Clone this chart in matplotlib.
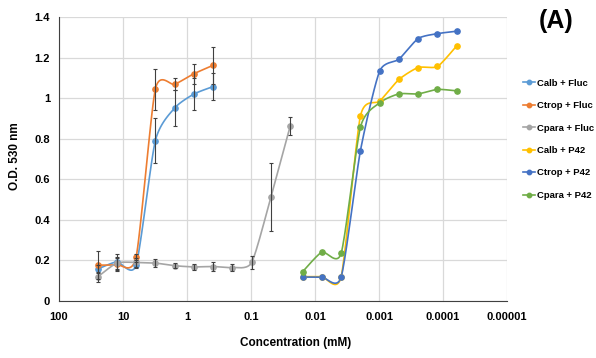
import numpy as np
import matplotlib
matplotlib.use('Agg')
import matplotlib.pyplot as plt
from matplotlib.lines import Line2D

plt.rcParams['font.family'] = ['Liberation Sans', 'DejaVu Sans']
plt.rcParams['font.weight'] = 'bold'

# Fluconazole series (mM)
conc_fluc = [25, 12.5, 6.25, 3.125, 1.5625, 0.78125, 0.390625]
calb_fluc = [0.157, 0.193, 0.177, 0.79, 0.951, 1.02, 1.057]
calb_fluc_err = [0.02, 0.04, 0.015, 0.11, 0.09, 0.08, 0.065]
ctrop_fluc = [0.177, 0.18, 0.216, 1.044, 1.068, 1.12, 1.162]
ctrop_fluc_err = [0.07, 0.03, 0.015, 0.1, 0.03, 0.05, 0.09]

conc_cpara = [25, 12.5, 6.25, 3.125, 1.5625, 0.78125, 0.390625,
              0.1953125, 0.09765625, 0.048828125, 0.0244140625]
cpara_fluc = [0.118, 0.187, 0.19, 0.187, 0.174, 0.168, 0.17, 0.165, 0.19, 0.512, 0.862]
cpara_fluc_err = [0.025, 0.03, 0.02, 0.02, 0.012, 0.015, 0.02, 0.015, 0.03, 0.167, 0.044]

# P42 series (mM)
conc_p42 = [0.015625, 0.0078125, 0.00390625, 0.001953125, 0.0009765625,
            0.00048828125, 0.000244140625, 0.0001220703125, 0.00006103515625]
calb_p42 = [0.12, 0.12, 0.12, 0.911, 0.985, 1.092, 1.151, 1.156, 1.258]
ctrop_p42 = [0.118, 0.118, 0.118, 0.74, 1.133, 1.192, 1.294, 1.318, 1.33]
cpara_p42 = [0.144, 0.241, 0.235, 0.856, 0.977, 1.021, 1.021, 1.043, 1.036]

xtick_vals = [100, 10, 1, 0.1, 0.01, 0.001, 0.0001, 0.00001]
xtick_labels = ['100', '10', '1', '0.1', '0.01', '0.001', '0.0001', '0.00001']
ytick_vals = [0, 0.2, 0.4, 0.6, 0.8, 1.0, 1.2, 1.4]
ytick_labels = ['0', '0.2', '0.4', '0.6', '0.8', '1', '1.2', '1.4']


def smooth(xs, ys, n=20, k=0.11):
    # Excel-like smoothed line: cardinal spline in (log x, y)
    u = np.log10(np.asarray(xs, float))
    v = np.asarray(ys, float)
    pu = np.concatenate([[u[0]], u, [u[-1]]])
    pv = np.concatenate([[v[0]], v, [v[-1]]])
    out_u, out_v = [], []
    t = np.linspace(0, 1, n)
    for i in range(1, len(pu) - 2):
        p0u, p1u, p2u, p3u = pu[i - 1], pu[i], pu[i + 1], pu[i + 2]
        p0v, p1v, p2v, p3v = pv[i - 1], pv[i], pv[i + 1], pv[i + 2]
        c1u, c1v = p1u + (p2u - p0u) * k, p1v + (p2v - p0v) * k
        c2u, c2v = p2u - (p3u - p1u) * k, p2v - (p3v - p1v) * k
        bu = ((1 - t) ** 3 * p1u + 3 * (1 - t) ** 2 * t * c1u
              + 3 * (1 - t) * t ** 2 * c2u + t ** 3 * p2u)
        bv = ((1 - t) ** 3 * p1v + 3 * (1 - t) ** 2 * t * c1v
              + 3 * (1 - t) * t ** 2 * c2v + t ** 3 * p2v)
        out_u.extend(bu)
        out_v.extend(bv)
    return 10 ** np.array(out_u), np.array(out_v)


fig = plt.figure(figsize=(5.96, 3.58), dpi=100)
ax = fig.add_axes([59 / 596, 1 - 301 / 358, 448 / 596, 284 / 358])

series = [
    ('Calb + Fluc', conc_fluc, calb_fluc, calb_fluc_err, '#5B9BD5'),
    ('Ctrop + Fluc', conc_fluc, ctrop_fluc, ctrop_fluc_err, '#ED7D31'),
    ('Cpara + Fluc', conc_cpara, cpara_fluc, cpara_fluc_err, '#A5A5A5'),
    ('Calb + P42', conc_p42, calb_p42, None, '#FFC000'),
    ('Ctrop + P42', conc_p42, ctrop_p42, None, '#4472C4'),
    ('Cpara + P42', conc_p42, cpara_p42, None, '#70AD47'),
]

handles = []
for name, xs, ys, err, col in series:
    sx, sy = smooth(xs, ys)
    ax.plot(sx, sy, color=col, lw=1.2, zorder=3)
    ax.plot(xs, ys, 'o', color=col, ms=3.8, zorder=4)
    if err is not None:
        ax.errorbar(xs, ys, yerr=err, fmt='none', ecolor='#404040',
                    elinewidth=0.8, capsize=1.5, capthick=0.8, zorder=5)
    handles.append(Line2D([], [], color=col, lw=1.2, marker='o', ms=3.2))

ax.set_xscale('log')
ax.set_xlim(100, 0.00001)
ax.set_ylim(0, 1.4)
ax.set_xticks(xtick_vals)
ax.set_xticklabels(xtick_labels)
ax.minorticks_off()
ax.set_yticks(ytick_vals)
ax.set_yticklabels(ytick_labels)
ax.tick_params(length=0, labelsize=8)
ax.tick_params(axis='x', pad=8)
ax.tick_params(axis='y', pad=6.5)
ax.grid(True, color='#d9d9d9', lw=0.9)
ax.set_axisbelow(True)
for s in ['top', 'right']:
    ax.spines[s].set_visible(False)
ax.spines['left'].set_color('#404040')
ax.spines['bottom'].set_color('#404040')

ax.set_xlabel('Concentration (mM)', fontsize=8.5, fontweight='bold')
ax.xaxis.set_label_coords((296 - 59) / 448, (301 - 343) / 284)
ax.xaxis.label.set_va('center')
ax.set_ylabel('O.D. 530 nm', fontsize=8.5, fontweight='bold')
ax.yaxis.set_label_coords((15 - 59) / 448, 0.51)
ax.yaxis.label.set_va('center')

fig.text(556 / 596, 1 - 21 / 358, '(A)', fontsize=18, fontweight='bold',
         ha='center', va='center')

fig.legend(handles, [s[0] for s in series], loc='upper left',
           bbox_to_anchor=(519 / 596, 1 - 75 / 358), frameon=False,
           fontsize=6.8, handlelength=1.3, handletextpad=0.25,
           labelspacing=1.42, borderaxespad=0)

fig.savefig('out.png', dpi=100)
